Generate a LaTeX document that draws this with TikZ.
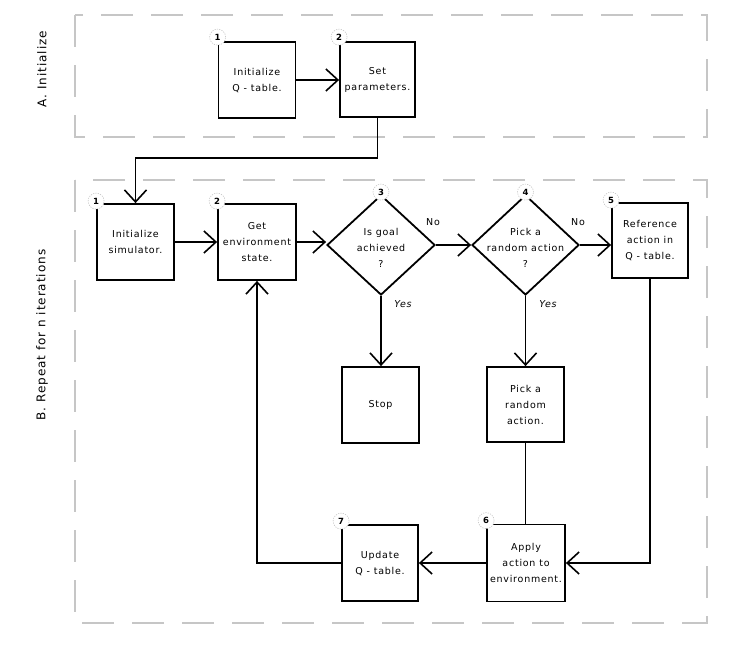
\documentclass[tikz,border=0pt]{standalone}
\usepackage{fontspec}
\setmainfont[LetterSpace=8]{DejaVu Sans}
\usetikzlibrary{arrows.meta,shapes.geometric}
\begin{document}
\begin{tikzpicture}[x=1pt,y=-1pt,
  stepbox/.style={draw, line width=1.8pt, minimum width=77pt, minimum height=76pt,
    inner sep=0pt, align=center, font=\fontsize{9.5}{16}\selectfont},
  decbox/.style={draw, diamond, line width=1.8pt, minimum width=108pt, minimum height=100pt, inner sep=0pt},
  dectext/.style={align=center, font=\fontsize{9.5}{16}\selectfont},
  numc/.style={circle, draw=gray!45, dash pattern=on 1.2pt off 1.2pt, fill=white, line width=0.6pt,
    inner sep=0pt, minimum size=16pt, font=\fontsize{8.5}{8.5}\selectfont\bfseries},
  grp/.style={draw=gray!45, line width=1.5pt, dash pattern=on 32pt off 18pt},
  arr/.style={line width=1.8pt, -{Straight Barb[length=12pt,width=22pt,line width=1.6pt]}},
  lnk/.style={line width=1.8pt},
  lbl/.style={font=\fontsize{9.5}{9.5}\selectfont},
  sect/.style={rotate=90, font=\fontsize{12}{12}\selectfont}
]
\useasboundingbox (0,0) rectangle (751,649);
\fill[white] (0,0) rectangle (751,649);

% groups
\draw[grp] (75,15) rectangle (707,137);
\draw[grp] (75,180) rectangle (707,623);
\node[sect] (la) at (42,69) {A. Initialize};
\node[sect] (lb) at (42,335) {B. Repeat for n iterations};

% A nodes
\node[stepbox] (a1) at (257,80) {Initialize\\Q - table.};
\node[stepbox, minimum width=75pt, minimum height=75pt] (a2) at (377.5,79.5) {Set\\parameters.};

% B nodes
\node[stepbox] (b1) at (135.5,242) {Initialize\\simulator.};
\node[stepbox, minimum width=78pt] (b2) at (257,242) {Get\\environment\\state.};
\node[decbox] (d3) at (381,245) {};
\node[dectext] (t3) at (381,248) {Is goal\\achieved\\?};
\node[decbox, minimum width=107pt] (d4) at (525.5,245) {};
\node[dectext] (t4) at (525.5,248) {Pick a\\random action\\?};
\node[stepbox, minimum width=76pt, minimum height=75pt] (b5) at (650,240.5) {Reference\\action in\\Q - table.};
\node[stepbox] (stop) at (380.5,405) {Stop};
\node[stepbox, minimum height=75pt] (pick) at (525.5,404.5) {Pick a\\random\\action.};
\node[stepbox, minimum width=78pt, minimum height=77pt] (apply) at (526,563) {Apply\\action to\\environment.};
\node[stepbox, minimum width=76pt] (upd) at (380,563) {Update\\Q - table.};

% numbers
\node[numc] (n1a) at ([yshift=4pt]a1.north west) {1};
\node[numc] (n2a) at ([yshift=4pt]a2.north west) {2};
\node[numc] (n1b) at ([yshift=2pt]b1.north west) {1};
\node[numc] (n2b) at ([yshift=2pt]b2.north west) {2};
\node[numc] (n3) at ([yshift=2pt]d3.north) {3};
\node[numc] (n4) at ([yshift=2pt]d4.north) {4};
\node[numc] (n5) at ([yshift=2pt]b5.north west) {5};
\node[numc] (n6) at ([yshift=3pt]apply.north west) {6};
\node[numc] (n7) at ([yshift=3pt]upd.north west) {7};

% connectors
\draw[arr] (a1.east) -- (a1.east -| a2.west);
\draw[arr] (a2.south) -- ++(0,40) -| (b1.north);
\draw[arr] (b1.east) -- (b2.west);
\draw[arr] (b2.east) -- (b2.east -| d3.west);
\draw[arr] (d3.east) -- (d4.west);
\draw[arr] (d4.east) -- (d4.east -| b5.west);
\draw[arr] (d3.south) -- (d3.south |- stop.north);
\draw[arr] (d4.south) -- (pick.north);
\draw[lnk] (pick.south) -- (pick.south |- apply.north);
\draw[arr] (b5.south) |- (apply.east);
\draw[arr] (apply.west) -- (upd.east);
\draw[arr] (upd.west) -| (b2.south);

% branch labels
\node[lbl] (no3) at (433,222) {No};
\node[lbl] (no4) at (578,222) {No};
\node[lbl, font=\fontsize{9.5}{9.5}\selectfont\itshape] (y3) at (403,304) {Yes};
\node[lbl, font=\fontsize{9.5}{9.5}\selectfont\itshape] (y4) at (548,304) {Yes};
\end{tikzpicture}
\end{document}
